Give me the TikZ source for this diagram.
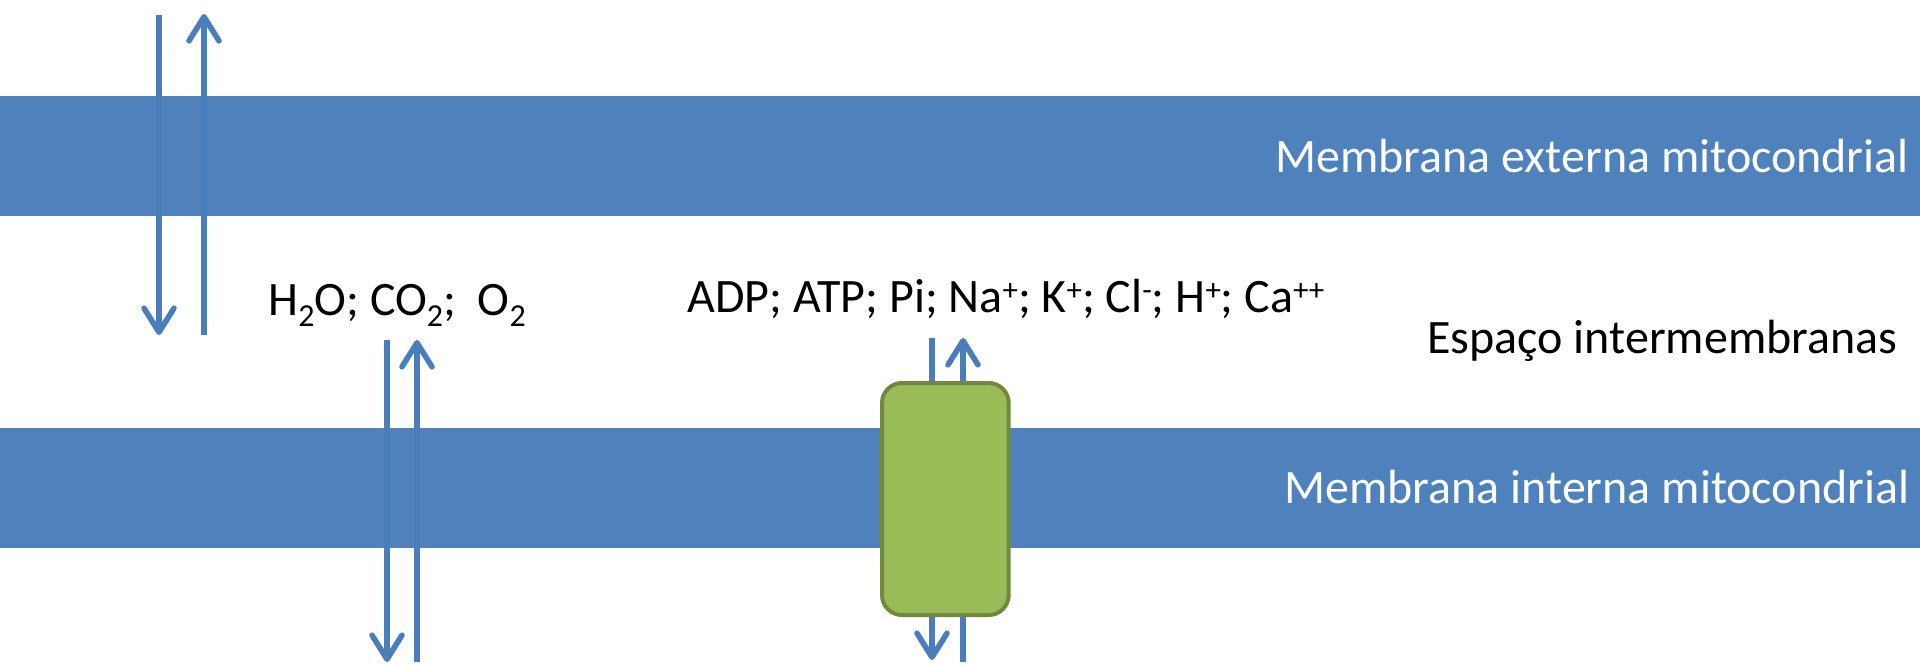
\documentclass[tikz,border=0pt]{standalone}
\usepackage{fontspec}
\setmainfont{Carlito}
\usetikzlibrary{arrows.meta}
\definecolor{membrane}{HTML}{4F81BD}
\definecolor{flux}{HTML}{4A7EBB}
\definecolor{carrierfill}{HTML}{9BBB59}
\definecolor{carrierline}{HTML}{71893F}
% chemical sub- and superscripts in the text font
\newcommand{\chsub}[1]{\raisebox{-5.8pt}{\fontsize{16}{18}\selectfont #1}}
\newcommand{\chsup}[1]{\raisebox{5.6pt}{\fontsize{15.5}{18}\selectfont #1}}
\begin{document}
\begin{tikzpicture}[x=0.5pt,y=-0.5pt,
  band/.style={fill=membrane, draw=none},
  txt/.style={font=\fontsize{24}{29}\selectfont, inner sep=0pt, anchor=base west},
  bandlabel/.style={txt, text=white},
  spacelabel/.style={txt, text=black},
  flow/.style={draw=flux, line width=2.8pt,
    -{Straight Barb[length=12pt,width=15pt,round]}},
  carrier/.style={draw=carrierline, fill=carrierfill, line width=2pt,
    rounded corners=10pt, minimum width=63.35pt, minimum height=116pt,
    inner sep=0pt},
]
% canvas
\useasboundingbox (0,0) rectangle (1920,664);
\fill[white] (0,0) rectangle (1920,664);

% the two membranes
\path[band] (0,96) rectangle (1920,216);
\path[band] (0,428) rectangle (1920,548);

% labels
\node[bandlabel] (outerlbl) at (1275,172) {Membrana externa mitocondrial};
\node[bandlabel] (innerlbl) at (1284,503) {Membrana interna mitocondrial};
\node[spacelabel] (spacelbl) at (1427,353) {Espaço intermembranas};
\node[spacelabel] (gases) at (268,315)
  {H\chsub{2}O; CO\chsub{2};\ \ O\chsub{2}};
\node[spacelabel] (ions) at (687,312)
  {ADP; ATP; Pi; Na\chsup{+}; K\chsup{+}; Cl\chsup{-}; H\chsup{+}; Ca\chsup{++}};

% free ends of the flux arrows
\coordinate (o1a) at (159,15);  \coordinate (o1b) at (159,335);
\coordinate (o2a) at (204,335); \coordinate (o2b) at (204,14);
\coordinate (i1a) at (387,340); \coordinate (i1b) at (387,662);
\coordinate (i2a) at (417,662); \coordinate (i2b) at (417,340);
\coordinate (c1a) at (932,338); \coordinate (c1b) at (932,660);
\coordinate (c2a) at (963,662); \coordinate (c2b) at (963,338);

% fluxes across the outer and inner membranes
\draw[flow] (o1a) -- (o1b);
\draw[flow] (o2a) -- (o2b);
\draw[flow] (i1a) -- (i1b);
\draw[flow] (i2a) -- (i2b);
\draw[flow] (c1a) -- (c1b);
\draw[flow] (c2a) -- (c2b);

% transport protein in the inner membrane
\node[carrier] (carrier) at (945.35,499) {};
\end{tikzpicture}
\end{document}
